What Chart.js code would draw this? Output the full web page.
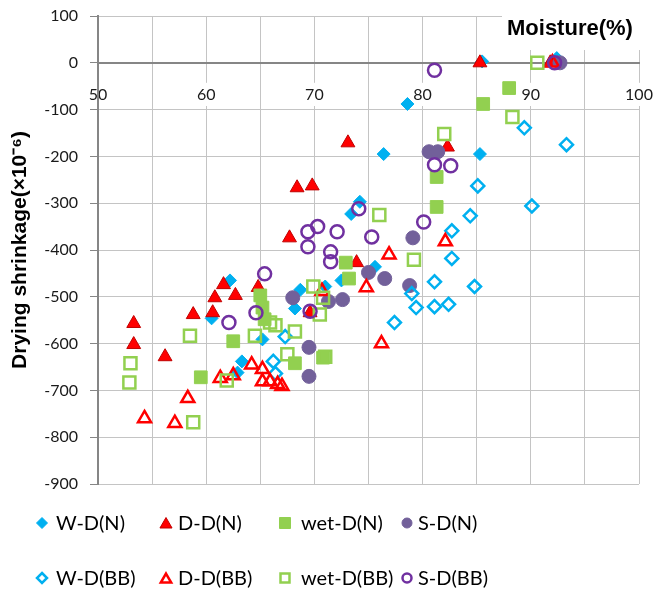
<!DOCTYPE html>
<html><head><meta charset="utf-8">
<script src="https://cdn.jsdelivr.net/npm/chart.js@4.4.0/dist/chart.umd.min.js"></script>
<style>html,body{margin:0;padding:0;background:#fff;}canvas{display:block;}</style>
</head><body>
<canvas id="c" width="654" height="595"></canvas>
<script>
// ---- Data ----
const seriesNames = ['W-D(N)', 'D-D(N)', 'wet-D(N)', 'S-D(N)', 'W-D(BB)', 'D-D(BB)', 'wet-D(BB)', 'S-D(BB)'];

const wdN_x = [92.4, 85.5, 78.6, 76.4, 85.3, 74.2, 73.4, 75.6, 62.2, 68.7, 71.0, 72.5, 68.2, 60.5, 65.2, 63.3, 62.9];
const wdN_y = [10, 3, -88, -195, -195, -297, -323, -436, -465, -485, -478, -465, -525, -546, -591, -638, -662];

const ddN_x = [85.3, 91.8, 73.1, 82.3, 68.4, 69.8, 67.7, 61.6, 62.7, 60.8, 64.8, 73.9, 60.6, 58.8, 53.3, 53.3, 56.2, 69.6];
const ddN_y = [0, 0, -171, -180, -267, -263, -374, -474, -497, -502, -480, -427, -534, -538, -557, -602, -628, -534];

const wetN_x = [88.0, 85.6, 81.3, 81.3, 72.9, 73.2, 65.0, 65.2, 65.4, 62.5, 59.5, 68.2, 70.8];
const wetN_y = [-54, -88, -244, -308, -427, -461, -497, -523, -548, -595, -672, -642, -630];

const sdN_x = [92.7, 80.6, 81.4, 79.1, 75.0, 76.5, 78.8, 72.6, 71.3, 68.0, 69.5, 69.5];
const sdN_y = [0, -190, -190, -374, -448, -461, -476, -506, -510, -502, -608, -670];

const wdBB_x = [89.4, 93.3, 85.1, 90.1, 84.4, 82.7, 82.7, 81.1, 84.8, 79.0, 79.4, 81.1, 82.4, 77.4, 67.3, 66.2, 66.4];
const wdBB_y = [-139, -175, -263, -306, -327, -359, -418, -468, -478, -493, -523, -521, -516, -555, -585, -638, -664];

const ddBB_x = [82.1, 76.9, 74.8, 76.2, 64.2, 65.2, 62.5, 61.3, 65.2, 65.9, 66.6, 67.0, 58.3, 54.3, 57.1, 70.7, 92.0];
const ddBB_y = [-382, -410, -480, -600, -645, -655, -668, -674, -681, -681, -687, -691, -717, -760, -770, -488, 0];

const wetBB_x = [90.6, 88.3, 82.0, 76.0, 79.2, 69.9, 58.5, 53.0, 52.9, 58.8, 64.5, 65.9, 66.4, 68.2, 67.5, 61.9, 71.0, 70.8, 70.5];
const wetBB_y = [0, -116, -152, -325, -421, -478, -583, -642, -683, -768, -583, -555, -561, -574, -623, -679, -628, -502, -538];

const sdBB_x = [92.2, 81.1, 81.1, 82.6, 74.1, 80.1, 70.3, 69.4, 72.1, 75.3, 69.4, 71.5, 71.5, 65.4, 69.6, 64.6, 62.1];
const sdBB_y = [0, -16, -218, -220, -312, -340, -350, -361, -361, -372, -393, -404, -425, -451, -531, -534, -555];

const xTickLabels = [50, 60, 70, 80, 90, 100];
const yTickLabels = [100, 0, -100, -200, -300, -400, -500, -600, -700, -800, -900];

// ---- Styles ----
const BLUE = '#00b0f0', RED = '#ff0000', DRED = '#c00000', GREEN = '#92d050', PURF = '#72609a', PURO = '#7030a0';
const NONE = 'rgba(0,0,0,0)';
const styles = [
  {ps: 'rectRot', r: 6.5, bg: BLUE, bc: BLUE, bw: 1},
  {ps: 'triangle', r: 8, bg: RED, bc: DRED, bw: 1},
  {ps: 'rect', r: 9, bg: GREEN, bc: GREEN, bw: 1},
  {ps: 'circle', r: 7, bg: PURF, bc: PURF, bw: 1},
  {ps: 'rectRot', r: 6.5, bg: NONE, bc: BLUE, bw: 2.5},
  {ps: 'triangle', r: 7.5, bg: NONE, bc: RED, bw: 2.5},
  {ps: 'rect', r: 8.5, bg: NONE, bc: GREEN, bw: 2.5},
  {ps: 'circle', r: 6.5, bg: NONE, bc: PURO, bw: 2.5}
];
const xs = [wdN_x, ddN_x, wetN_x, sdN_x, wdBB_x, ddBB_x, wetBB_x, sdBB_x];
const ys = [wdN_y, ddN_y, wetN_y, sdN_y, wdBB_y, ddBB_y, wetBB_y, sdBB_y];

const datasets = seriesNames.map((name, i) => ({
  label: name,
  data: xs[i].map((x, j) => ({x: x, y: ys[i][j]})),
  pointStyle: styles[i].ps,
  pointRadius: styles[i].r,
  pointHoverRadius: styles[i].r,
  backgroundColor: styles[i].bg,
  borderColor: styles[i].bc,
  pointBorderWidth: styles[i].bw,
  showLine: false,
  order: seriesNames.length - i
}));

// ---- Plugins ----
function marker(ctx, ps, x, y, r, bg, bc, bw) {
  ctx.save();
  ctx.beginPath();
  if (ps === 'rectRot') {
    ctx.moveTo(x, y - r); ctx.lineTo(x + r, y); ctx.lineTo(x, y + r); ctx.lineTo(x - r, y); ctx.closePath();
  } else if (ps === 'triangle') {
    ctx.moveTo(x, y - r); ctx.lineTo(x + r * 0.866, y + r * 0.5); ctx.lineTo(x - r * 0.866, y + r * 0.5); ctx.closePath();
  } else if (ps === 'rect') {
    ctx.rect(x - r, y - r, 2 * r, 2 * r);
  } else {
    ctx.arc(x, y, r, 0, Math.PI * 2);
  }
  ctx.fillStyle = bg; ctx.fill();
  ctx.strokeStyle = bc; ctx.lineWidth = bw; ctx.stroke();
  ctx.restore();
}

const legendMarkerX = [42, 166, 285, 407];
const legendTextX = [56, 178, 301, 418];
const legendRowY = [523, 578];
const legendSizes = [
  {r: 5.5, bw: 1}, {r: 7, bw: 1}, {r: 5.5, bw: 1}, {r: 5, bw: 1},
  {r: 5, bw: 2.5}, {r: 6, bw: 2.5}, {r: 4.5, bw: 2.5}, {r: 4.5, bw: 2.5}
];

const customLegend = {
  id: 'customLegend',
  afterDraw(chart) {
    const ctx = chart.ctx;
    seriesNames.forEach((name, i) => {
      const col = i % 4, row = Math.floor(i / 4);
      const st = styles[i];
      const y = legendRowY[row];
      marker(ctx, st.ps, legendMarkerX[col], st.ps === 'triangle' ? y + 1.5 : y, legendSizes[i].r, st.bg, st.bc, legendSizes[i].bw);
      ctx.save();
      ctx.fillStyle = '#000';
      ctx.font = '20px Lato';
      ctx.textBaseline = 'middle';
      ctx.textAlign = 'left';
      ctx.fillText(name, legendTextX[col], y + 1);
      ctx.restore();
    });
  }
};

const xTitle = {
  id: 'xTitle',
  beforeDatasetsDraw(chart) {
    const ctx = chart.ctx;
    ctx.save();
    ctx.fillStyle = '#fff';
    ctx.fillRect(502, 6, 150, 44);
    ctx.fillStyle = '#000';
    ctx.font = 'bold 22px "Liberation Sans"';
    ctx.textBaseline = 'middle';
    ctx.textAlign = 'left';
    ctx.fillText('Moisture(%)', 507, 29);
    ctx.restore();
  }
};

new Chart(document.getElementById('c'), {
  type: 'scatter',
  data: {datasets: datasets},
  options: {
    responsive: false,
    animation: false,
    events: [],
    layout: {padding: {left: 0, right: 15, top: 16, bottom: 111}},
    plugins: {legend: {display: false}, tooltip: {enabled: false}},
    scales: {
      x: {
        type: 'linear',
        position: {y: 0},
        min: 50, max: 100,
        afterFit: s => { s.paddingLeft = 0; s.paddingRight = 0; },
        ticks: {
          stepSize: 5, autoSkip: false, maxRotation: 0,
          callback: v => xTickLabels.includes(v) ? String(v) : '',
          font: {family: 'Lato', size: 16}, color: '#1a1a1a', padding: 22,
          showLabelBackdrop: c => xTickLabels.includes(c.tick && c.tick.value),
          backdropColor: '#fff', backdropPadding: {x: 2, y: 2}
        },
        grid: {color: '#c4c4c4', lineWidth: 1, drawTicks: false},
        border: {display: true, color: '#868686', width: 2}
      },
      y: {
        type: 'linear',
        min: -900, max: 100,
        afterFit: s => { s.width = 98; s.paddingTop = 0; s.paddingBottom = 0; },
        ticks: {
          stepSize: 100, autoSkip: false,
          callback: v => yTickLabels.includes(v) ? String(v) : '',
          font: {family: 'Lato', size: 16}, color: '#1a1a1a', padding: 12
        },
        grid: {color: '#c4c4c4', lineWidth: 1, drawTicks: true, tickLength: 8, tickColor: '#868686'},
        border: {display: true, color: '#868686', width: 2},
        title: {
          display: true, text: 'Drying shrinkage(×10⁻⁶)',
          font: {family: 'Liberation Sans', size: 21, weight: 'bold'}, color: '#000',
          padding: {top: 8, bottom: 0}
        }
      }
    }
  },
  plugins: [xTitle, customLegend]
});
</script>
</body></html>
